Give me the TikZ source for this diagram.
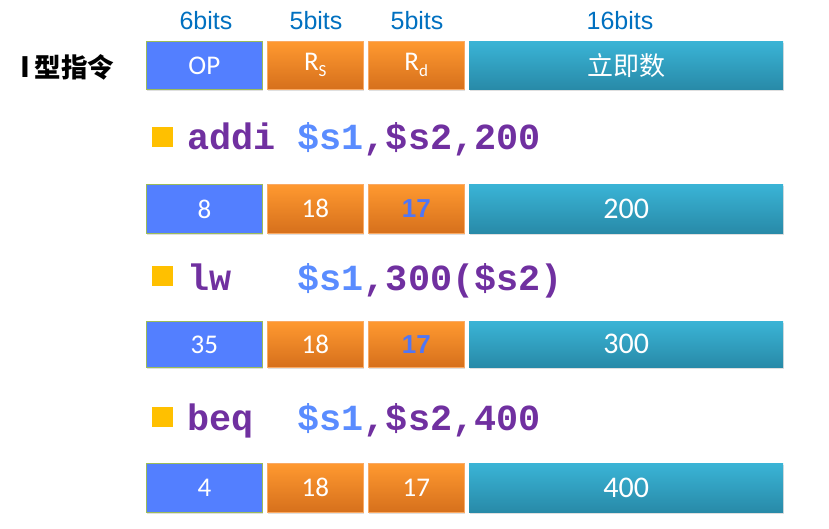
\documentclass[tikz,border=0pt]{standalone}
\usepackage{fontspec}
\setmainfont{Carlito}
\newfontfamily\cjk{Noto Sans CJK SC}
\newfontfamily\mono{Liberation Mono}
\newfontfamily\arial{Liberation Sans}
\usetikzlibrary{shadows}
\definecolor{opblue}{RGB}{83,127,255}
\definecolor{opedge}{RGB}{155,187,89}
\definecolor{ortop}{RGB}{255,153,48}
\definecolor{orbot}{RGB}{214,112,28}
\definecolor{oredge}{RGB}{250,170,100}
\definecolor{tltop}{RGB}{58,180,214}
\definecolor{tlbot}{RGB}{40,138,168}
\definecolor{hdrblue}{RGB}{0,112,192}
\definecolor{purp}{RGB}{112,48,160}
\definecolor{regblue}{RGB}{90,140,255}
\definecolor{bold17}{RGB}{80,118,245}
\definecolor{bullet}{RGB}{255,192,0}
\begin{document}
\begin{tikzpicture}[x=1pt,y=1pt,
  field/.style={anchor=north west, inner sep=0pt, text=white,
    font=\fontsize{27}{27}\selectfont,
    drop shadow={shadow xshift=1pt,shadow yshift=-1.5pt,opacity=0.25}},
  opbox/.style={field, fill=opblue, draw=opedge, line width=0.8pt, minimum width=116pt},
  rbox/.style={field, top color=ortop, bottom color=orbot, draw=oredge, line width=0.5pt, minimum width=96pt},
  immbox/.style={field, top color=tltop, bottom color=tlbot, minimum width=314pt,
    font=\fontsize{30}{30}\selectfont},
  bold17/.style={text=bold17, font=\arial\bfseries\fontsize{26}{26}\selectfont},
  hdr/.style={anchor=base, text=hdrblue, font=\arial\fontsize{25}{25}\selectfont, inner sep=0pt},
  instr/.style={anchor=base west, inner sep=0pt, font=\mono\bfseries\fontsize{36.8}{36.8}\selectfont},
  bul/.style={fill=bullet, minimum width=21pt, minimum height=20pt, inner sep=0pt, anchor=north west}]
\useasboundingbox (0,0) rectangle (829,528);
% header labels
\node[hdr] (h1) at (206,498) {6bits};
\node[hdr] (h2) at (316,498) {5bits};
\node[hdr] (h3) at (417,498) {5bits};
\node[hdr] (h4) at (620,498) {16bits};
% title
\node[anchor=base west, inner sep=0pt, font=\cjk\bfseries\fontsize{26.5}{26.5}\selectfont] (title) at (20,450) {\fontsize{28}{28}\selectfont I\,\fontsize{26.5}{26.5}\selectfont 型指令};
% header row
\node[opbox, minimum height=48pt] (op0) at (146,487) {OP};
\node[rbox, minimum height=48pt] (rs0) at (267,487) {R\raisebox{-6pt}{\fontsize{17}{17}\selectfont S}};
\node[rbox, minimum height=48pt] (rd0) at (368,487) {R\raisebox{-6pt}{\fontsize{17}{17}\selectfont d}};
\node[immbox, minimum height=48pt, font=\cjk\fontsize{26}{26}\selectfont] (im0) at (469,487) {立即数};
% addi
\node[bul] (b1) at (152,401) {};
\node[instr] (i1) at (187,378) {\textcolor{purp}{addi}\hphantom{x}\textcolor{regblue}{\$s1}\textcolor{purp}{,\$s2,200}};
\node[opbox, minimum height=49pt] (op1) at (146,344) {8};
\node[rbox, minimum height=49pt] (rs1) at (267,344) {18};
\node[rbox, minimum height=49pt, bold17] (rd1) at (368,344) {17};
\node[immbox, minimum height=49pt] (im1) at (469,344) {200};
% lw
\node[bul] (b2) at (152,262) {};
\node[instr] (i2) at (187,238) {\textcolor{purp}{lw}\hphantom{xxx}\textcolor{regblue}{\$s1}\textcolor{purp}{,300(\$s2)}};
\node[opbox, minimum height=46pt] (op2) at (146,207) {35};
\node[rbox, minimum height=46pt] (rs2) at (267,207) {18};
\node[rbox, minimum height=46pt, bold17] (rd2) at (368,207) {17};
\node[immbox, minimum height=46pt] (im2) at (469,207) {300};
% beq
\node[bul] (b3) at (152,121) {};
\node[instr] (i3) at (187,98) {\textcolor{purp}{beq}\hphantom{xx}\textcolor{regblue}{\$s1}\textcolor{purp}{,\$s2,400}};
\node[opbox, minimum height=49pt] (op3) at (146,65) {4};
\node[rbox, minimum height=49pt] (rs3) at (267,65) {18};
\node[rbox, minimum height=49pt] (rd3) at (368,65) {17};
\node[immbox, minimum height=49pt] (im3) at (469,65) {400};
\end{tikzpicture}
\end{document}
